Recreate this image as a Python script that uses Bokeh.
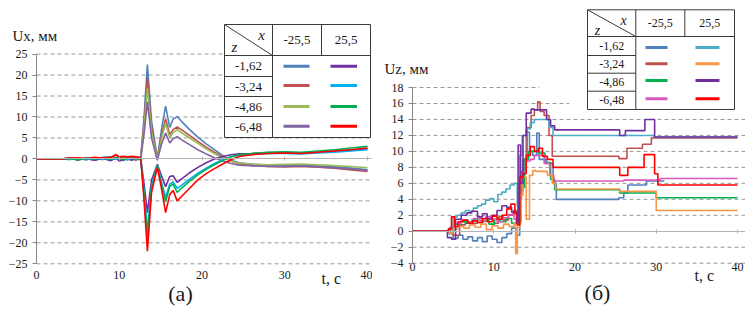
from bokeh.plotting import figure
from bokeh.layouts import row
from bokeh.models import Range1d, FixedTicker, LinearAxis, Label
from bokeh.core.properties import value
from bokeh.embed import file_html
from bokeh.resources import INLINE

FONT = "Liberation Serif"

# ---------------- data: panel (a) Ux, mm ----------------
ux_t = [0, 3, 4, 5, 6, 7, 8, 9, 9.6, 10, 10.5, 11, 11.5, 12, 12.6, 13.0, 13.4, 13.9, 14.6,
        15.1, 15.6, 16.1, 16.5, 17.0, 17.5, 18.5, 19.5, 20.5, 21.5, 22.5, 23.5, 24.5,
        26, 28, 30, 32, 34, 36, 38, 40]
# x = -25.5
ux_m_162 = [0, 0, 0.2, -0.3, 0.3, -0.2, 0.4, 0.5, 0.2, -0.4, 0.3, -0.2, 0.3, 0.1, 0.5, 10, 22.5, 9, 0.2,
            7, 12.6, 7.5, 9.5, 10.1, 9.0, 7.0, 5.2, 3.6, 2.2, 0.8, -0.3, -0.9,
            -1.3, -1.5, -1.6, -1.5, -1.7, -1.9, -2.2, -2.6]
ux_m_324 = [0, 0, 0.1, 0.2, -0.2, 0.3, 0, 0.4, 1.1, 0.3, 0.2, 0.4, 0.3, 0.5, 0.4, 8.5, 19.5, 7.5, 0,
            5.5, 9.6, 5.8, 7.0, 7.6, 7.0, 5.6, 4.2, 2.8, 1.6, 0.5, -0.5, -1.2,
            -1.6, -1.8, -1.9, -1.8, -2.0, -2.2, -2.6, -3.0]
ux_m_486 = [0, 0, -0.1, 0.2, 0, 0.2, -0.2, 0.3, 0.1, -0.2, 0.2, 0, -0.3, 0.2, 0.3, 7.5, 17, 6.5, 0,
            4.8, 8.5, 5.0, 6.3, 7.0, 6.3, 5.0, 3.7, 2.4, 1.3, 0.3, -0.5, -1.0,
            -1.2, -1.4, -1.3, -1.2, -1.4, -1.6, -1.8, -2.1]
ux_m_648 = [0, 0, 0.2, -0.2, 0.1, -0.3, 0.2, -0.3, 0.2, 0.4, -0.4, 0.2, 0.1, -0.3, 0.2, 6, 13.6, 5, -0.3,
            3.5, 6.2, 3.8, 4.8, 5.3, 4.6, 3.4, 2.2, 1.2, 0.3, -0.5, -1.1, -1.5,
            -1.6, -1.8, -1.8, -1.7, -1.9, -2.1, -2.4, -2.7]
# x = 25.5
ux_p_162 = [0, 0, 0.2, -0.2, 0.1, -0.3, 0.1, -0.4, 0.3, -0.5, -0.2, 0.1, -0.3, 0.2, 0, -6, -12.8, -5, -1.3,
            -4, -6.6, -4.2, -4, -5.6, -4.8, -3.3, -2, -0.9, 0, 0.6, 1.0, 1.2,
            1.3, 1.5, 1.5, 1.4, 1.6, 1.9, 2.1, 2.4]
ux_p_324 = [0, 0, -0.1, 0.1, -0.2, 0.2, 0, 0.2, -0.1, 0.2, 0, -0.2, 0.2, 0.1, -0.1, -8, -17, -6.5, -1.5,
            -5.5, -9.2, -6, -5.5, -7, -6.3, -4.8, -3.4, -2.2, -1.1, -0.2, 0.5, 0.9,
            1.1, 1.3, 1.3, 1.2, 1.4, 1.6, 1.9, 2.2]
ux_p_486 = [0, 0, 0.1, -0.2, 0.2, 0, 0.3, -0.1, 0.2, 0.3, -0.2, 0.1, 0.3, 0, -0.2, -8.5, -19, -7, -1.6,
            -6, -10.2, -6.5, -6, -8, -7, -5.3, -3.8, -2.5, -1.4, -0.4, 0.5, 1.0,
            1.3, 1.6, 1.7, 1.6, 1.9, 2.2, 2.6, 3.0]
ux_p_648 = [0, 0, 0.2, 0.3, 0.1, 0.4, 0.2, 0.4, 0.9, 0.5, 0.6, 0.5, 0.6, 0.5, 0.2, -10, -22, -8, -2,
            -7, -12.8, -8.5, -7.5, -10, -9, -7, -5, -3.5, -2.3, -1.2, -0.2, 0.6,
            1.0, 1.3, 1.4, 1.3, 1.6, 1.9, 2.2, 2.6]
ux_series = [ux_m_162, ux_m_324, ux_m_486, ux_m_648, ux_p_162, ux_p_324, ux_p_486, ux_p_648]
ux_colors_m = ["#4F81BD", "#C0504D", "#9BBB59", "#8064A2"]
ux_colors_p = ["#7030A0", "#00B0F0", "#00B050", "#FF0000"]
ux_ticks = [-25, -20, -15, -10, -5, 0, 5, 10, 15, 20, 25]
ux_grid = [-25, -20, -15, -10, -5, 5, 10, 15, 20, 25]

# ---------------- data: panel (b) Uz, mm (step records) ----------------
uz_m_162_t = [0, 4.5, 5.0, 5.6, 6.2, 6.8, 7.4, 8.0, 8.6, 9.2, 9.8, 10.4, 11.0, 11.6, 12.2, 12.8, 13.2, 13.6,
              14.0, 14.4, 14.8, 15.3, 15.6, 16.5, 17.3, 17.7, 25.4, 26.0, 26.5, 28.8, 31.0]
uz_m_162_v = [0, -0.3, -0.9, -0.5, -1.0, -0.7, -1.2, -0.8, -1.3, -0.6, -1.0, -1.4, -0.8, -0.3, 0.4, -0.5, 5.0, 9.0,
              12.4, 10.0, 9.5, 12.3, 9.0, 8.5, 6.0, 4.0, 4.2, 4.8, 5.8, 6.3, 6.3]
uz_m_324_t = [0, 4.5, 5.0, 5.8, 6.5, 7.2, 8.0, 8.7, 9.4, 10.0, 10.6, 11.2, 11.8, 12.4, 12.9, 13.3, 13.7, 14.1,
              14.6, 15.0, 15.4, 15.7, 16.2, 16.8, 17.2, 25.4, 26.4, 28.3, 29.4, 40]
uz_m_324_v = [0, 0.3, -0.5, 0.8, 1.2, 1.0, 1.6, 1.3, 1.5, 1.0, 1.8, 1.4, 2.0, 2.6, 1.0, 5.5, 9.0, 13.0,
              14.5, 15.2, 16.2, 15.0, 14.5, 12.0, 9.4, 9.1, 10.4, 10.9, 11.7, 11.7]
uz_m_486_t = [0, 4.6, 5.2, 5.9, 6.6, 7.3, 8.0, 8.7, 9.4, 10.1, 10.8, 11.5, 12.2, 12.8, 13.3, 13.8, 14.3, 15.5,
              16.3, 17.0, 17.5, 25.5, 30.0, 40]
uz_m_486_v = [0, 0.2, 0.9, 1.2, 1.0, 1.4, 1.1, 1.3, 0.9, 1.5, 1.2, 1.6, 1.0, 1.3, 5.5, 9.0, 10.0, 9.8,
              8.6, 6.5, 5.2, 4.8, 4.2, 4.2]
uz_m_648_t = [0, 4.6, 5.2, 6.0, 6.8, 7.5, 8.3, 9.0, 9.7, 10.4, 11.1, 11.8, 12.5, 13.0, 13.4, 13.9, 14.5, 15.0,
              16.2, 16.9, 17.4, 26.0, 30.5, 40]
uz_m_648_v = [0, 0.5, 1.0, 1.4, 1.2, 1.6, 1.3, 1.8, 1.5, 1.2, 1.7, 2.1, 1.5, 4.0, 7.5, 8.8, 9.0, 9.5,
              8.5, 7.0, 6.3, 6.4, 6.6, 6.6]
uz_p_162_t = [0, 4.5, 5.0, 5.5, 6.0, 6.5, 7.0, 7.5, 8.0, 8.5, 9.0, 9.5, 10.0, 10.5, 11.0, 11.5, 12.0, 12.5,
              12.9, 13.2, 13.5, 14.0, 14.5, 15.0, 16.8, 17.3, 29.7, 40]
uz_p_162_v = [0, 0.3, 1.8, 2.0, 2.3, 2.6, 2.5, 2.9, 3.2, 3.4, 3.9, 4.1, 3.7, 4.6, 4.9, 5.3, 5.8, 6.0,
              3.2, 9.5, 12.0, 12.8, 13.6, 14.0, 13.0, 12.0, 11.8, 11.8]
uz_p_324_t = [0, 4.5, 5.0, 5.6, 6.3, 7.0, 7.7, 8.4, 9.1, 9.8, 10.5, 11.2, 11.9, 12.5, 12.7, 12.9, 13.2, 13.6,
              14.0, 14.4, 14.8, 15.2, 16.6, 17.2, 17.6, 25.5, 30.0, 40]
uz_p_324_v = [0, -0.2, 0.3, 0.6, 0.4, 0.8, 0.5, 0.9, 0.2, 0.7, 0.4, 0.9, 0.6, 1.0, -2.8, 0.5, 4.5, 6.8,
              1.5, 7.0, 7.6, 7.5, 7.0, 6.0, 5.3, 5.0, 2.6, 2.6]
uz_p_486_t = [0, 4.3, 4.8, 5.3, 6.0, 6.7, 7.3, 8.0, 8.6, 9.2, 9.8, 10.4, 11.0, 11.6, 12.2, 12.8, 13.0, 13.3,
              13.6, 14.0, 14.6, 15.0, 16.5, 17.0, 17.5, 25.5, 26.2, 28.6, 29.8, 40]
uz_p_486_v = [0, -0.8, -1.0, 1.5, 2.0, 2.3, 2.5, 1.8, 2.2, 1.6, 2.0, 2.6, 3.2, 3.0, 2.4, 1.0, 10.8, 6.0,
              12.0, 14.8, 15.3, 15.2, 14.0, 13.2, 12.7, 12.0, 12.6, 14.0, 11.8, 11.8]
uz_p_648_t = [0, 4.4, 4.8, 5.2, 5.6, 6.2, 6.8, 7.4, 8.0, 8.6, 9.2, 9.8, 10.4, 11.0, 11.6, 12.1, 12.6, 12.9,
              13.2, 13.6, 14.0, 14.5, 15.0, 15.5, 16.0, 16.6, 17.3, 25.5, 26.5, 28.5, 29.8, 30.2, 40]
uz_p_648_v = [0, 0.3, 1.8, 0.6, 1.2, 1.4, 1.0, 1.3, 1.1, 1.6, 1.2, 1.9, 1.5, 2.0, 2.8, 3.4, 2.2, 0.8,
              6.8, 7.2, 9.5, 10.6, 10.0, 10.4, 9.4, 9.0, 8.0, 7.0, 8.0, 9.6, 7.2, 5.8, 5.8]
uz_series = [(uz_m_162_t, uz_m_162_v), (uz_m_324_t, uz_m_324_v), (uz_m_486_t, uz_m_486_v),
             (uz_m_648_t, uz_m_648_v), (uz_p_162_t, uz_p_162_v), (uz_p_324_t, uz_p_324_v),
             (uz_p_486_t, uz_p_486_v), (uz_p_648_t, uz_p_648_v)]
uz_colors_m = ["#4F81BD", "#C0504D", "#00B050", "#DA5BBE"]
uz_colors_p = ["#4BACC6", "#F79646", "#7030A0", "#FF0000"]
uz_ticks = [-4, -2, 0, 2, 4, 6, 8, 10, 12, 14, 16, 18]
uz_grid = [-4, -2, 2, 4, 6, 8, 10, 12, 14, 16, 18]
uz_grid_end = [None] * 9 + [19.3, 15.6]

t_ticks = [0, 10, 20, 30, 40]
z_labels = ["-1,62", "-3,24", "-4,86", "-6,48"]
x_labels = ["-25,5", "25,5"]

GRID = "#9a9a9a"
AXIS = "#868686"
TXT = "#1a1a1a"
H = 313


def make_fig(width, fx, fy, yticks, ybounds, tick_axis_y, standoff, x_end):
    # the frame fills the whole canvas; axes are placed with fixed_location
    p = figure(width=width, height=H,
               x_range=Range1d(fx(0), fx(width)), y_range=Range1d(fy(H), fy(0)),
               output_backend="svg", toolbar_location=None,
               min_border_left=0, min_border_right=0, min_border_top=0, min_border_bottom=0)
    p.outline_line_color = None
    p.background_fill_color = "white"
    p.border_fill_color = "white"
    p.xgrid.visible = False
    p.ygrid.visible = False
    ya = p.yaxis[0]
    ya.fixed_location = 0
    ya.ticker = FixedTicker(ticks=yticks)
    ya.bounds = ybounds
    ya.axis_line_color = AXIS
    ya.major_tick_line_color = AXIS
    ya.major_tick_out = 4
    ya.major_tick_in = 0
    ya.minor_tick_line_color = None
    ya.major_label_standoff = 5
    ya.major_label_text_font = FONT
    ya.major_label_text_font_size = "12px"
    ya.major_label_text_color = TXT
    xa = p.xaxis[0]
    xa.fixed_location = tick_axis_y
    xa.ticker = FixedTicker(ticks=t_ticks)
    xa.axis_line_color = None
    xa.major_tick_line_color = None
    xa.minor_tick_line_color = None
    xa.major_tick_in = 0
    xa.major_tick_out = 0
    xa.major_label_standoff = standoff
    xa.major_label_text_font = FONT
    xa.major_label_text_font_size = "12px"
    xa.major_label_text_color = TXT
    # zero line of the time axis (Excel style, with small ticks)
    zero = LinearAxis(fixed_location=0, ticker=FixedTicker(ticks=t_ticks[1:]), bounds=(0, x_end),
                      axis_line_color="#b4b4b4", major_tick_line_color="#b4b4b4",
                      major_tick_in=2, major_tick_out=2, minor_tick_line_color=None,
                      major_label_text_color=None)
    p.add_layout(zero, "below")
    return p


def add_label(p, x, y, text, size, align="left"):
    p.add_layout(Label(x=x, y=y, text=text, text_font=FONT, text_font_size=size,
                       text_align=align, text_baseline="middle", text_color=TXT))


def draw_table(p, fx, fy, g, colors_a, colors_b, fs, xzs):
    L, R, T, HB, C1, C2, rws, B = g["L"], g["R"], g["T"], g["HB"], g["C1"], g["C2"], g["rows"], g["B"]
    p.quad(left=[fx(L)], right=[fx(R)], top=[fy(T)], bottom=[fy(B)],
           fill_color="white", line_color="#3a3a3a", line_width=1)
    segs = [(L, HB, R, HB), (C1, T, C1, B), (C2, T, C2, HB), (L, T, C1, HB)] + [(L, r, C1, r) for r in rws]
    p.segment(x0=[fx(s[0]) for s in segs], y0=[fy(s[1]) for s in segs],
              x1=[fx(s[2]) for s in segs], y1=[fy(s[3]) for s in segs],
              line_color="#3a3a3a", line_width=1)
    p.text(x=[fx(g["xpos"][0]), fx(g["zpos"][0])], y=[fy(g["xpos"][1]), fy(g["zpos"][1])],
           text=["x", "z"], text_font=value(FONT), text_font_style="italic",
           text_font_size=value(xzs), text_align="center", text_baseline="middle", text_color=TXT)
    p.text(x=[fx((C1 + C2) / 2), fx((C2 + R) / 2)], y=[fy(g["hy"])] * 2, text=x_labels,
           text_font=value(FONT), text_font_size=value(fs), text_align="center",
           text_baseline="middle", text_color=TXT)
    edges = [HB] + rws + [B]
    p.text(x=[fx((L + C1) / 2)] * 4, y=[fy((edges[i] + edges[i + 1]) / 2) for i in range(4)],
           text=z_labels, text_font=value(FONT), text_font_size=value(fs), text_align="center",
           text_baseline="middle", text_color=TXT)
    a0, a1 = g["sa"]
    b0, b1 = g["sb"]
    ys = [fy(v) for v in g["sy"]]
    p.segment(x0=[fx(a0)] * 4, x1=[fx(a1)] * 4, y0=ys, y1=ys, line_color=colors_a, line_width=3)
    p.segment(x0=[fx(b0)] * 4, x1=[fx(b1)] * 4, y0=ys, y1=ys, line_color=colors_b, line_width=3)


# ---------------- panel (a): canvas x 0..372 ----------------
fxl = lambda px: (px - 36) / 8.276
fyl = lambda py: 33.0 - (py - 20) / 4.195
XL_END = fxl(371)

pa = make_fig(372, fxl, fyl, ux_ticks, (-25, 25), -25, 7, XL_END)
pa.segment(x0=[0] * len(ux_grid), x1=[XL_END] * len(ux_grid), y0=ux_grid, y1=ux_grid,
           line_color=GRID, line_width=1, line_dash="4 3")
for vals, col in zip(ux_series, ux_colors_m + ux_colors_p):
    pa.line(ux_t, vals, line_color=col, line_width=1.6)

geom_a = dict(L=224, R=370, T=24, HB=55, C1=272, C2=321, rows=[76, 96, 116], B=137,
              xpos=(261, 34), zpos=(234, 46), hy=39.5,
              sa=(283, 309), sb=(330, 356.5), sy=[65.7, 85, 106, 125.7])
draw_table(pa, fxl, fyl, geom_a, ux_colors_m, ux_colors_p, "13px", "15px")
add_label(pa, fxl(12), fyl(35), "Ux, мм", "15px")
add_label(pa, fxl(321), fyl(277.5), "t, c", "16px")
add_label(pa, fxl(180), fyl(293), "(a)", "22px", "center")

# ---------------- panel (b): canvas x 372..745 (page coordinates below) ----------------
fxr_page = lambda px: (px - 412) / 8.125
fxr = lambda cx: fxr_page(cx + 372)          # canvas-relative -> data
fyr = lambda py: 27.77 - (py - 9) / 7.986
XR_END = fxr_page(745)

pb = make_fig(373, fxr, fyr, uz_ticks, (-4, 18), -4, 0, XR_END)
gx1 = [XR_END if e is None else e for e in uz_grid_end]
pb.segment(x0=[0] * len(uz_grid), x1=gx1, y0=uz_grid, y1=uz_grid,
           line_color=GRID, line_width=1, line_dash="4 3")
for (tt, vv), col in zip(uz_series, uz_colors_m + uz_colors_p):
    pb.step(tt, vv, mode="after", line_color=col, line_width=1.6)

geom_b = dict(L=587, R=734, T=9.3, HB=36, C1=635.3, C2=684.3, rows=[55, 72.7, 90.7], B=109,
              xpos=(623, 20), zpos=(597, 30), hy=22.7,
              sa=(645, 667), sb=(695, 719), sy=[47, 63.3, 80, 98.3])
draw_table(pb, fxr_page, fyr, geom_b, uz_colors_m, uz_colors_p, "12px", "14px")
add_label(pb, fxr_page(384), fyr(68), "Uz, мм", "15px")
add_label(pb, fxr_page(694), fyr(275), "t, c", "16px")
add_label(pb, fxr_page(597), fyr(291.5), "(б)", "22px", "center")

layout = row(pa, pb)
open("out.html", "w").write(file_html(layout, INLINE))
